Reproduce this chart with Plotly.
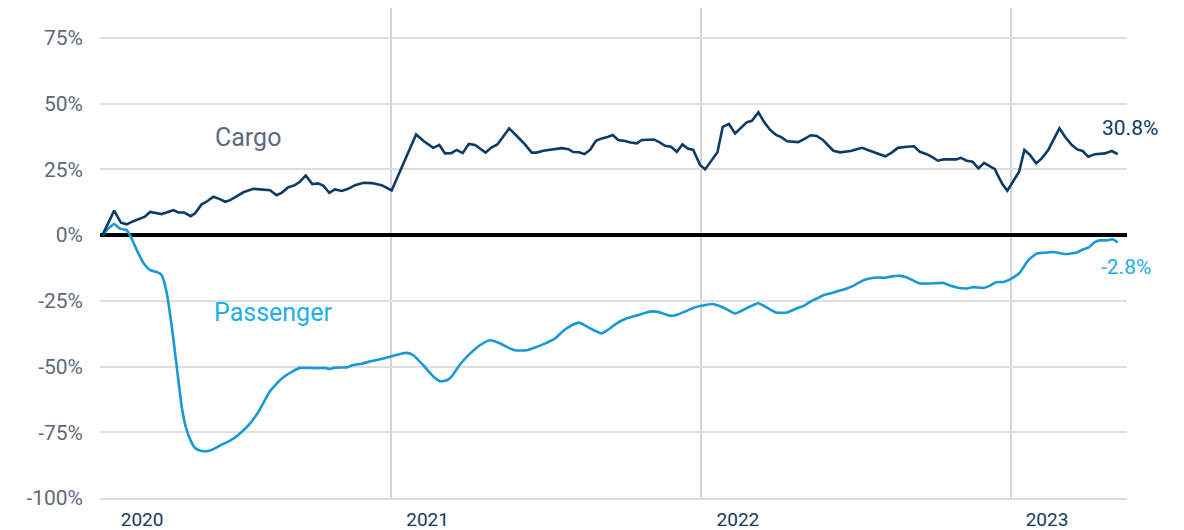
import plotly.graph_objects as go

# ---- data (decimal year, % change) ----
cargo_t = [2020.069, 2020.107, 2020.129, 2020.147, 2020.169, 2020.190, 2020.206, 2020.223, 2020.260, 2020.298,
           2020.314, 2020.333, 2020.354, 2020.368, 2020.389, 2020.405, 2020.427, 2020.448, 2020.465, 2020.481,
           2020.502, 2020.524, 2020.556, 2020.583, 2020.610, 2020.631, 2020.647, 2020.669, 2020.690, 2020.706,
           2020.725, 2020.746, 2020.765, 2020.782, 2020.801, 2020.819, 2020.841, 2020.862, 2020.884, 2020.911,
           2020.938, 2020.970, 2021.002, 2021.081, 2021.104, 2021.136, 2021.156, 2021.174, 2021.194, 2021.212,
           2021.231, 2021.251, 2021.271, 2021.305, 2021.325, 2021.343, 2021.381, 2021.405, 2021.432, 2021.454,
           2021.470, 2021.491, 2021.524, 2021.551, 2021.572, 2021.588, 2021.607, 2021.624, 2021.642, 2021.661,
           2021.680, 2021.701, 2021.715, 2021.733, 2021.755, 2021.773, 2021.793, 2021.809, 2021.830, 2021.848,
           2021.868, 2021.884, 2021.903, 2021.922, 2021.940, 2021.957, 2021.975, 2021.997, 2022.013, 2022.035,
           2022.053, 2022.070, 2022.090, 2022.110, 2022.128, 2022.147, 2022.164, 2022.185, 2022.203, 2022.223,
           2022.242, 2022.260, 2022.278, 2022.314, 2022.335, 2022.354, 2022.373, 2022.393, 2022.411, 2022.427,
           2022.448, 2022.483, 2022.502, 2022.520, 2022.540, 2022.558, 2022.577, 2022.594, 2022.615, 2022.635,
           2022.664, 2022.687, 2022.706, 2022.728, 2022.746, 2022.764, 2022.782, 2022.803, 2022.823, 2022.838,
           2022.857, 2022.876, 2022.895, 2022.913, 2022.930, 2022.948, 2022.957, 2022.972, 2022.988, 2023.005,
           2023.026, 2023.043, 2023.061, 2023.081, 2023.099, 2023.120, 2023.139, 2023.156, 2023.174, 2023.196,
           2023.214, 2023.231, 2023.249, 2023.271, 2023.303, 2023.325, 2023.344]
cargo_v = [0.0, 9.3, 4.7, 4.1, 5.3, 6.1, 7.0, 8.8, 8.0, 9.5,
           8.6, 8.6, 7.2, 8.3, 11.7, 12.7, 14.6, 13.7, 12.7, 13.3,
           14.9, 16.3, 17.6, 17.4, 17.1, 15.2, 16.1, 18.2, 19.0, 20.3,
           22.7, 19.4, 19.7, 18.8, 16.1, 17.4, 16.8, 17.6, 19.0, 19.9,
           19.8, 19.0, 17.0, 38.3, 35.9, 33.2, 34.3, 31.1, 31.2, 32.4,
           31.2, 34.7, 34.3, 31.4, 33.4, 34.5, 40.6, 37.8, 34.5, 31.4,
           31.4, 32.1, 32.5, 33.1, 32.7, 31.6, 31.5, 30.8, 32.4, 35.9,
           36.8, 37.4, 38.1, 36.2, 35.8, 35.2, 34.9, 36.2, 36.3, 36.4,
           35.2, 34.0, 33.6, 31.7, 34.5, 32.9, 32.4, 26.7, 25.0, 28.8,
           31.5, 41.2, 42.3, 38.7, 40.9, 42.9, 43.5, 46.7, 43.1, 40.0,
           38.1, 37.2, 35.7, 35.4, 36.7, 38.0, 37.7, 36.2, 34.0, 32.1,
           31.5, 32.0, 32.7, 33.2, 32.3, 31.5, 30.8, 30.0, 31.4, 33.2,
           33.6, 33.8, 31.7, 30.8, 29.7, 28.3, 28.8, 28.7, 28.8, 29.4,
           28.3, 27.9, 25.4, 27.5, 26.3, 25.1, 22.8, 19.4, 16.9, 20.1,
           24.1, 32.4, 30.5, 27.3, 29.2, 32.4, 36.8, 40.6, 37.4, 34.3,
           32.6, 32.0, 29.8, 30.8, 31.1, 32.0, 30.8]

passenger_t = [2020.069, 2020.088, 2020.107, 2020.126, 2020.147, 2020.158, 2020.180, 2020.201, 2020.223, 2020.244,
               2020.260, 2020.276, 2020.293, 2020.309, 2020.325, 2020.338, 2020.352, 2020.368, 2020.389, 2020.411,
               2020.432, 2020.454, 2020.481, 2020.507, 2020.540, 2020.572, 2020.610, 2020.647, 2020.680, 2020.706,
               2020.733, 2020.760, 2020.787, 2020.803, 2020.819, 2020.857, 2020.878, 2020.905, 2020.938, 2020.970,
               2021.002, 2021.029, 2021.051, 2021.072, 2021.104, 2021.136, 2021.158, 2021.180, 2021.196, 2021.223,
               2021.255, 2021.287, 2021.319, 2021.352, 2021.378, 2021.400, 2021.438, 2021.470, 2021.502, 2021.529,
               2021.556, 2021.583, 2021.607, 2021.631, 2021.658, 2021.680, 2021.701, 2021.728, 2021.755, 2021.787,
               2021.814, 2021.835, 2021.862, 2021.884, 2021.905, 2021.927, 2021.954, 2021.981, 2022.002, 2022.035,
               2022.072, 2022.110, 2022.147, 2022.185, 2022.217, 2022.242, 2022.278, 2022.309, 2022.335, 2022.357,
               2022.375, 2022.397, 2022.422, 2022.443, 2022.470, 2022.497, 2022.518, 2022.540, 2022.567, 2022.594,
               2022.615, 2022.642, 2022.664, 2022.685, 2022.706, 2022.739, 2022.782, 2022.803, 2022.825, 2022.857,
               2022.878, 2022.911, 2022.930, 2022.952, 2022.975, 2022.997, 2023.027, 2023.056, 2023.083, 2023.104,
               2023.136, 2023.174, 2023.212, 2023.233, 2023.249, 2023.271, 2023.287, 2023.309, 2023.327, 2023.344]
passenger_v = [0.0, 2.5, 4.2, 2.5, 1.9, 0.0, -5.7, -10.5, -13.3, -14.0,
               -15.2, -21.6, -34.9, -50.2, -65.4, -73.0, -77.7, -81.0, -82.1, -82.1,
               -81.1, -79.7, -78.2, -76.0, -72.4, -67.3, -59.3, -54.6, -52.0, -50.5,
               -50.5, -50.6, -50.5, -50.9, -50.4, -50.3, -49.4, -48.9, -47.9, -47.1,
               -46.1, -45.2, -44.8, -45.7, -49.5, -53.7, -55.6, -55.2, -53.7, -49.1,
               -45.1, -41.9, -40.0, -41.2, -42.8, -43.8, -43.8, -42.5, -41.0, -39.3,
               -36.4, -34.3, -33.3, -34.7, -36.4, -37.4, -35.9, -33.6, -31.9, -30.8,
               -29.8, -29.1, -29.2, -30.1, -30.7, -30.1, -28.8, -27.4, -26.9, -26.2,
               -27.5, -29.8, -27.8, -25.9, -27.9, -29.4, -29.4, -27.8, -26.7, -25.0,
               -24.0, -22.8, -22.0, -21.3, -20.3, -18.9, -17.5, -16.6, -16.1, -16.2,
               -15.7, -15.5, -16.1, -17.3, -18.4, -18.4, -18.2, -19.2, -19.9, -20.3,
               -19.8, -20.1, -19.3, -17.9, -17.8, -16.8, -14.4, -9.5, -7.0, -6.7,
               -6.4, -7.2, -6.6, -5.4, -4.8, -2.6, -2.0, -2.0, -1.6, -2.8]

year_lines = [2021, 2022, 2023]
year_tick_pos = [2020.197, 2021.118, 2022.119, 2023.116]
year_tick_text = ["2020", "2021", "2022", "2023"]
y_tick_vals = [-100, -75, -50, -25, 0, 25, 50, 75]
y_tick_text = ["-100%", "-75%", "-50%", "-25%", "0%", "25%", "50%", "75%"]

CARGO_C = "#0d3b63"
PASS_C = "#1898d5"
PASS_TXT = "#22aee8"
GRAY_TXT = "#5f6a7d"
FONT = "Roboto"

fig = go.Figure()
fig.add_trace(go.Scatter(x=passenger_t, y=passenger_v, mode="lines",
                         line=dict(color=PASS_C, width=2.6, shape="spline", smoothing=0.5),
                         hoverinfo="skip", showlegend=False))
fig.add_trace(go.Scatter(x=cargo_t, y=cargo_v, mode="lines",
                         line=dict(color=CARGO_C, width=2.6),
                         hoverinfo="skip", showlegend=False))

for yr in year_lines:
    fig.add_shape(type="line", xref="x", yref="paper", x0=yr, x1=yr, y0=0, y1=1,
                  line=dict(color="#b9bdc3", width=1.3), layer="below")

fig.add_annotation(x=2020.54, y=37.3, text="Cargo", showarrow=False,
                   font=dict(family=FONT, size=25, color=GRAY_TXT))
fig.add_annotation(x=2020.62, y=-29.3, text="Passenger", showarrow=False,
                   font=dict(family=FONT, size=25, color=PASS_TXT))
fig.add_annotation(x=cargo_t[-1], y=cargo_v[-1], text=f"{cargo_v[-1]:.1f}%", showarrow=False,
                   xanchor="center", xshift=12, yshift=26,
                   font=dict(family=FONT, size=21, color=CARGO_C))
fig.add_annotation(x=passenger_t[-1], y=passenger_v[-1], text=f"{passenger_v[-1]:.1f}%", showarrow=False,
                   xanchor="center", xshift=8, yshift=-25,
                   font=dict(family=FONT, size=21, color=PASS_TXT))

# the page body adds an 8px offset, so the figure is sized to fit the 1184x530 window
fig.update_layout(
    width=1176, height=522,
    margin=dict(l=92, r=57, t=0, b=32),
    paper_bgcolor="white", plot_bgcolor="white",
    hovermode=False, showlegend=False,
    font=dict(family=FONT),
)
fig.update_xaxes(range=[2020.0613, 2023.374], showgrid=False, zeroline=False,
                 tickmode="array", tickvals=year_tick_pos, ticktext=year_tick_text,
                 ticks="", tickfont=dict(family=FONT, size=19, color="#17395c"),
                 ticklabelstandoff=3, automargin=False,
                 showline=True, linecolor="#dcdcdc", linewidth=1.5)
fig.update_yaxes(range=[-100, 86.4], tickmode="array", tickvals=y_tick_vals, ticktext=y_tick_text,
                 showgrid=True, gridcolor="#dedede", gridwidth=1.5,
                 zeroline=True, zerolinecolor="#000000", zerolinewidth=3.5,
                 ticks="", tickfont=dict(family=FONT, size=21, color=GRAY_TXT),
                 ticklabelstandoff=16, automargin=False, showline=False)

fig.write_html("out.html")
